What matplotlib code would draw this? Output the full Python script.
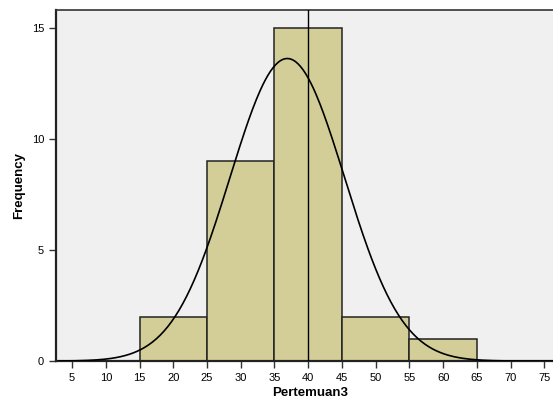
"""SPSS-style histogram of Pertemuan3 with normal curve."""

import matplotlib.pyplot as plt
import numpy as np

plt.rcParams['font.family'] = ['Liberation Sans', 'DejaVu Sans']

bin_edges = [15, 25, 35, 45, 55, 65]
counts = [2, 9, 15, 2, 1]
xticks = [5, 10, 15, 20, 25, 30, 35, 40, 45, 50, 55, 60, 65, 70, 75]
yticks = [0, 5, 10, 15]
ref_line = 40

# normal curve from the binned data
mids = np.array([(a + b) / 2 for a, b in zip(bin_edges[:-1], bin_edges[1:])])
cnt = np.array(counts)
n = cnt.sum()
mean = (mids * cnt).sum() / n
sd = np.sqrt(((mids - mean) ** 2 * cnt).sum() / (n - 1))
width = bin_edges[1] - bin_edges[0]

fig = plt.figure(figsize=(5.53, 4.03), dpi=100)
ax = fig.add_axes([0.101, 0.104, 0.92, 0.871])
ax.set_facecolor('#F0F0F0')

ax.bar(bin_edges[:-1], counts, width=np.diff(bin_edges), align='edge',
       color='#D3CE98', edgecolor='#222222', linewidth=1.1, zorder=2)

xs = np.linspace(3, 78, 400)
ys = n * width * np.exp(-0.5 * ((xs - mean) / sd) ** 2) / (sd * np.sqrt(2 * np.pi))
ax.plot(xs, ys, color='black', linewidth=1.2, zorder=3)

ax.axvline(ref_line, color='black', linewidth=1.0, zorder=4)

ax.set_xlim(2.6, 78)
ax.set_ylim(0, 15.8)
ax.set_xticks(xticks)
ax.set_yticks(yticks)
ax.tick_params(axis='both', labelsize=8, length=5, width=1, color='#333333', direction='out')

for side in ['left', 'bottom']:
    ax.spines[side].set_linewidth(1.6)
    ax.spines[side].set_color('#222222')
ax.spines['top'].set_linewidth(1.2)
ax.spines['top'].set_color('#333333')
ax.spines['right'].set_visible(False)

ax.set_xlabel('Pertemuan3', fontsize=9.5, fontweight='bold', labelpad=3)
ax.set_ylabel('Frequency', fontsize=9.5, fontweight='bold', labelpad=5)

plt.savefig('out.png', dpi=100)
